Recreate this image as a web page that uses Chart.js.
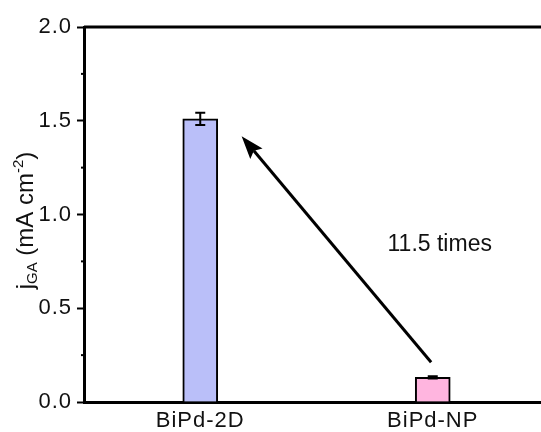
<!DOCTYPE html>
<html>
<head>
<meta charset="utf-8">
<script src="https://cdn.jsdelivr.net/npm/chart.js@4.4.1/dist/chart.umd.min.js"></script>
<style>
  html, body { margin: 0; padding: 0; background: #fff; overflow: hidden; }
  #clip { width: 541px; height: 432px; overflow: hidden; position: relative; }
  #box { width: 552px; height: 432px; position: absolute; left: 0; top: 0; }
</style>
</head>
<body>
<div id="clip"><div id="box"><canvas id="c"></canvas></div></div>
<script>
// Catalyst samples and their current density (mA cm^-2)
const categories = ['BiPd-2D', 'BiPd-NP'];
const categoryPositions = [1, 2];
const currentDensity = [1.51, 0.131];
const currentError = [0.033, 0.006];
const barColors = ['#babff9', '#ffb5df'];

// Y axis range and tick step
const yMin = 0, yMax = 2.0, yStep = 0.5, yMinorStep = 0.25;

// Enhancement annotation: arrow (data units) and its label
const ratioLabel = '11.5 times';
const arrowStart = { x: 1.993, y: 0.212 };
const arrowEnd = { x: 1.178, y: 1.418 };
const labelAt = { x: 2.03, y: 0.84 };

const FONT = '"Liberation Sans", Arial, sans-serif';

const framePlugin = {
  id: 'frame',
  beforeDraw(chart) {
    chart.ctx.letterSpacing = '1px';
  },
  afterDatasetsDraw(chart) {
    const { ctx, chartArea, scales } = chart;
    const xs = scales.x, ys = scales.y;
    ctx.save();
    ctx.strokeStyle = '#000';
    ctx.fillStyle = '#000';

    // error bars
    ctx.lineWidth = 2;
    currentDensity.forEach((v, i) => {
      const px = xs.getPixelForValue(categoryPositions[i]);
      const yHi = ys.getPixelForValue(v + currentError[i]);
      const yLo = ys.getPixelForValue(v - currentError[i]);
      ctx.beginPath();
      ctx.moveTo(px, yHi); ctx.lineTo(px, yLo);
      ctx.moveTo(px - 5, yHi); ctx.lineTo(px + 5, yHi);
      ctx.moveTo(px - 5, yLo); ctx.lineTo(px + 5, yLo);
      ctx.stroke();
    });

    // top frame line
    ctx.lineWidth = 3;
    ctx.beginPath();
    ctx.moveTo(chartArea.left, chartArea.top);
    ctx.lineTo(chartArea.right + 5, chartArea.top);
    ctx.stroke();

    // minor ticks on the y axis
    ctx.lineWidth = 2;
    for (let v = yMin + yMinorStep; v < yMax; v += yStep) {
      const py = ys.getPixelForValue(v);
      ctx.beginPath();
      ctx.moveTo(chartArea.left - 3, py);
      ctx.lineTo(chartArea.left, py);
      ctx.stroke();
    }

    // arrow
    const x0 = xs.getPixelForValue(arrowStart.x), y0 = ys.getPixelForValue(arrowStart.y);
    const x1 = xs.getPixelForValue(arrowEnd.x), y1 = ys.getPixelForValue(arrowEnd.y);
    const ang = Math.atan2(y1 - y0, x1 - x0);
    const headLen = 23, headHalf = 8;
    const bx = x1 - headLen * Math.cos(ang), by = y1 - headLen * Math.sin(ang);
    ctx.lineWidth = 3;
    ctx.beginPath();
    ctx.moveTo(x0, y0);
    ctx.lineTo(bx + 4 * Math.cos(ang), by + 4 * Math.sin(ang));
    ctx.stroke();
    ctx.beginPath();
    ctx.moveTo(x1, y1);
    ctx.lineTo(bx + headHalf * Math.sin(ang), by - headHalf * Math.cos(ang));
    ctx.lineTo(bx + 4 * Math.cos(ang), by + 4 * Math.sin(ang));
    ctx.lineTo(bx - headHalf * Math.sin(ang), by + headHalf * Math.cos(ang));
    ctx.closePath();
    ctx.fill();

    // ratio label
    ctx.font = '23px ' + FONT;
    ctx.letterSpacing = '0px';
    ctx.textAlign = 'center';
    ctx.textBaseline = 'middle';
    ctx.fillStyle = '#111';
    ctx.fillText(ratioLabel, xs.getPixelForValue(labelAt.x), ys.getPixelForValue(labelAt.y));

    // y axis title: j_GA (mA cm^-2)
    const cy = (chartArea.top + chartArea.bottom) / 2 + 6;
    ctx.translate(25, cy);
    ctx.rotate(-Math.PI / 2);
    const big = '24px ' + FONT, small = '15px ' + FONT;
    const parts = [
      { t: 'j', f: big, dy: 0 },
      { t: 'GA', f: small, dy: 4 },
      { t: ' (mA cm', f: big, dy: 0 },
      { t: '-2', f: small, dy: -10 },
      { t: ')', f: big, dy: 0 }
    ];
    let total = 0;
    parts.forEach(p => { ctx.font = p.f; p.w = ctx.measureText(p.t).width; total += p.w; });
    let x = -total / 2;
    ctx.textAlign = 'left';
    ctx.textBaseline = 'alphabetic';
    parts.forEach(p => {
      ctx.font = p.f;
      ctx.fillText(p.t, x, 8 + p.dy);
      x += p.w;
    });
    ctx.restore();
  }
};

new Chart(document.getElementById('c'), {
  type: 'bar',
  data: {
    datasets: [{
      data: categoryPositions.map((x, i) => ({ x, y: currentDensity[i] })),
      backgroundColor: barColors,
      borderColor: '#000',
      borderWidth: 2,
      borderSkipped: 'bottom',
      barThickness: 35
    }]
  },
  options: {
    responsive: true,
    maintainAspectRatio: false,
    animation: false,
    events: [],
    layout: { padding: { top: 27, left: 0, right: 3, bottom: 0 } },
    plugins: { legend: { display: false }, tooltip: { enabled: false } },
    scales: {
      x: {
        type: 'linear',
        min: 0.5,
        max: 2.5,
        offset: false,
        afterBuildTicks(scale) { scale.ticks = categoryPositions.map(v => ({ value: v })); },
        afterFit(scale) { scale.height = 30; },
        ticks: {
          callback: (v) => categories[categoryPositions.indexOf(v)] || '',
          color: '#111',
          font: { family: FONT, size: 22 },
          padding: 6,
          maxRotation: 0,
          autoSkip: false
        },
        grid: { display: true, drawOnChartArea: false, drawTicks: false, color: '#000' },
        border: { display: true, color: '#000', width: 3 }
      },
      y: {
        min: yMin,
        max: yMax,
        afterFit(scale) { scale.width = 84; },
        ticks: {
          stepSize: yStep,
          callback: (v) => v.toFixed(1),
          color: '#111',
          font: { family: FONT, size: 22 },
          padding: 5
        },
        grid: { display: true, drawOnChartArea: false, drawTicks: true, tickLength: 7, tickWidth: 2, tickColor: '#000' },
        border: { display: true, color: '#000', width: 3 }
      }
    }
  },
  plugins: [framePlugin]
});
</script>
</body>
</html>
